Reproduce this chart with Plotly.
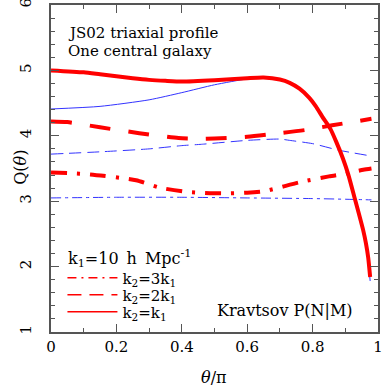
import plotly.graph_objects as go

# ---- data ----
x_red_solid = [0.0, 0.1, 0.15, 0.2, 0.25, 0.3, 0.35, 0.4, 0.5, 0.6, 0.65, 0.7, 0.73, 0.76, 0.79, 0.81, 0.83, 0.854, 0.873, 0.893, 0.909, 0.929, 0.942, 0.955, 0.963, 0.970, 0.976]
y_red_solid = [5.00, 4.97, 4.94, 4.91, 4.88, 4.855, 4.84, 4.83, 4.85, 4.88, 4.89, 4.86, 4.81, 4.72, 4.58, 4.45, 4.29, 4.11, 3.90, 3.65, 3.41, 3.04, 2.80, 2.55, 2.36, 2.14, 1.84]

x_blue_solid = [0.0, 0.15, 0.3, 0.4, 0.5, 0.6, 0.65, 0.7, 0.73, 0.76, 0.79, 0.81, 0.83, 0.856, 0.875, 0.895, 0.911, 0.931, 0.944, 0.957, 0.965, 0.971, 0.976]
y_blue_solid = [4.41, 4.45, 4.55, 4.66, 4.78, 4.87, 4.89, 4.86, 4.80, 4.71, 4.56, 4.43, 4.27, 4.08, 3.86, 3.60, 3.35, 2.97, 2.72, 2.47, 2.28, 2.06, 1.78]

x_red_dash = [0.0, 0.05, 0.15, 0.27, 0.39, 0.45, 0.5, 0.6, 0.7, 0.78, 0.86, 0.98]
y_red_dash = [4.22, 4.21, 4.13, 4.04, 3.965, 3.955, 3.96, 3.985, 4.04, 4.09, 4.16, 4.26]

x_blue_dash = [0.0, 0.15, 0.3, 0.4, 0.46, 0.6, 0.7, 0.73, 0.8, 0.88, 0.98]
y_blue_dash = [3.72, 3.755, 3.80, 3.85, 3.87, 3.93, 3.95, 3.93, 3.88, 3.78, 3.69]

x_red_dashdot = [0.0, 0.05, 0.12, 0.26, 0.33, 0.42, 0.52, 0.6, 0.655, 0.76, 0.85, 0.9, 0.955, 0.98]
y_red_dashdot = [3.44, 3.43, 3.41, 3.32, 3.21, 3.14, 3.12, 3.13, 3.155, 3.29, 3.38, 3.42, 3.48, 3.50]

x_blue_dashdot = [0.0, 0.2, 0.4, 0.6, 0.8, 0.9, 0.98]
y_blue_dashdot = [3.05, 3.06, 3.06, 3.05, 3.04, 3.03, 3.02]

legend_labels = ["k<sub>2</sub>=3k<sub>1</sub>", "k<sub>2</sub>=2k<sub>1</sub>", "k<sub>2</sub>=k<sub>1</sub>"]
legend_title = "k<sub>1</sub>=10\u2002h\u2002Mpc<sup>-1</sup>"
x_ticks = [0, 0.2, 0.4, 0.6, 0.8, 1]
x_ticklabels = ["0", "0.2", "0.4", "0.6", "0.8", "1"]
y_ticks = [1, 2, 3, 4, 5, 6]
y_ticklabels = ["1", "2", "3", "4", "5", "6"]

RED = "#ff0000"
BLUE = "#3333ff"
FONT = "DejaVu Serif"
SM = 0.6

fig = go.Figure()

# blue thin curves
fig.add_trace(go.Scatter(x=x_blue_solid, y=y_blue_solid, mode="lines", line=dict(color=BLUE, width=1, shape="spline", smoothing=SM), showlegend=False))
fig.add_trace(go.Scatter(x=x_blue_dash, y=y_blue_dash, mode="lines", line=dict(color=BLUE, width=1, dash="12px,6px", shape="spline", smoothing=SM), showlegend=False))
fig.add_trace(go.Scatter(x=x_blue_dashdot, y=y_blue_dashdot, mode="lines", line=dict(color=BLUE, width=1, dash="10px,4px,3px,4px", shape="spline", smoothing=SM), showlegend=False))

# red thick curves
fig.add_trace(go.Scatter(x=x_red_dashdot, y=y_red_dashdot, mode="lines", line=dict(color=RED, width=4, dash="16px,10px,3px,10px", shape="spline", smoothing=SM), showlegend=False))
fig.add_trace(go.Scatter(x=x_red_dash, y=y_red_dash, mode="lines", line=dict(color=RED, width=4, dash="21px,18px", shape="spline", smoothing=SM), showlegend=False))
fig.add_trace(go.Scatter(x=x_red_solid, y=y_red_solid, mode="lines", line=dict(color=RED, width=4, shape="spline", smoothing=SM), showlegend=False))

# legend entries (thin samples as in reference), one small legend per entry for exact spacing
legend_dashes = ["9px,5px,2px,5px", "14px,8px", "solid"]
legend_ids = ["legend", "legend2", "legend3"]
legend_ys = [0.165, 0.113, 0.061]
for lab, d, lid in zip(legend_labels, legend_dashes, legend_ids):
    fig.add_trace(go.Scatter(x=[None], y=[None], mode="lines", name=lab, legend=lid,
                             line=dict(color=RED, width=1.5, dash=d)))

legend_style = dict(x=0.035, xanchor="left", yanchor="middle", bgcolor="rgba(0,0,0,0)",
                    font=dict(family=FONT, size=15, color="black"), itemwidth=50)

txt = dict(xref="paper", yref="paper", showarrow=False)
fig.add_annotation(text="JS02 triaxial profile", x=0.045, y=0.914, xanchor="left", yanchor="middle",
                   font=dict(family=FONT, size=15, color="black"), **txt)
fig.add_annotation(text="One central galaxy", x=0.045, y=0.858, xanchor="left", yanchor="middle",
                   font=dict(family=FONT, size=15, color="black"), **txt)
fig.add_annotation(text="Kravtsov P(N|M)", x=0.50, y=0.067, xanchor="left", yanchor="middle",
                   font=dict(family=FONT, size=16, color="black"), **txt)
fig.add_annotation(text=legend_title, x=0.045, y=0.226, xanchor="left", yanchor="middle",
                   font=dict(family=FONT, size=16, color="black"), **txt)
# axis titles
fig.add_annotation(text="<i>θ</i>/π", x=0.498, y=-0.138, xanchor="center", yanchor="middle",
                   font=dict(family=FONT, size=16, color="black"), **txt)
fig.add_annotation(text="Q(<i>θ</i>)", x=-0.092, y=0.505, xanchor="center", yanchor="middle", textangle=-90,
                   font=dict(family=FONT, size=16, color="black"), **txt)

axis_common = dict(showline=True, linecolor="#555555", linewidth=1.5, mirror="allticks",
                   ticks="inside", ticklen=8, tickwidth=1.2, tickcolor="#555555",
                   showgrid=False, zeroline=False, automargin=False, ticklabeloverflow="allow",
                   tickfont=dict(family=FONT, size=15, color="black"))

fig.update_xaxes(range=[0, 1], tickvals=x_ticks, ticktext=x_ticklabels,
                 minor=dict(ticks="inside", ticklen=4, dtick=0.1, tickcolor="#555555", tickwidth=1.2),
                 **axis_common)
fig.update_yaxes(range=[1, 6], tickvals=y_ticks, ticktext=y_ticklabels, tickangle=-90,
                 ticklabelstandoff=12,
                 minor=dict(ticks="inside", ticklen=4, dtick=0.2, tickcolor="#555555", tickwidth=1.2),
                 **axis_common)

fig.update_layout(
    width=382, height=390,
    margin=dict(l=51, r=4, t=5, b=58, autoexpand=False),
    plot_bgcolor="white", paper_bgcolor="white",
    showlegend=True,
    legend=dict(y=legend_ys[0], **legend_style),
    legend2=dict(y=legend_ys[1], **legend_style),
    legend3=dict(y=legend_ys[2], **legend_style),
)

fig.write_html("out.html", config={"displayModeBar": False},
               post_script="document.body.style.margin='0';document.body.style.overflow='hidden';")
